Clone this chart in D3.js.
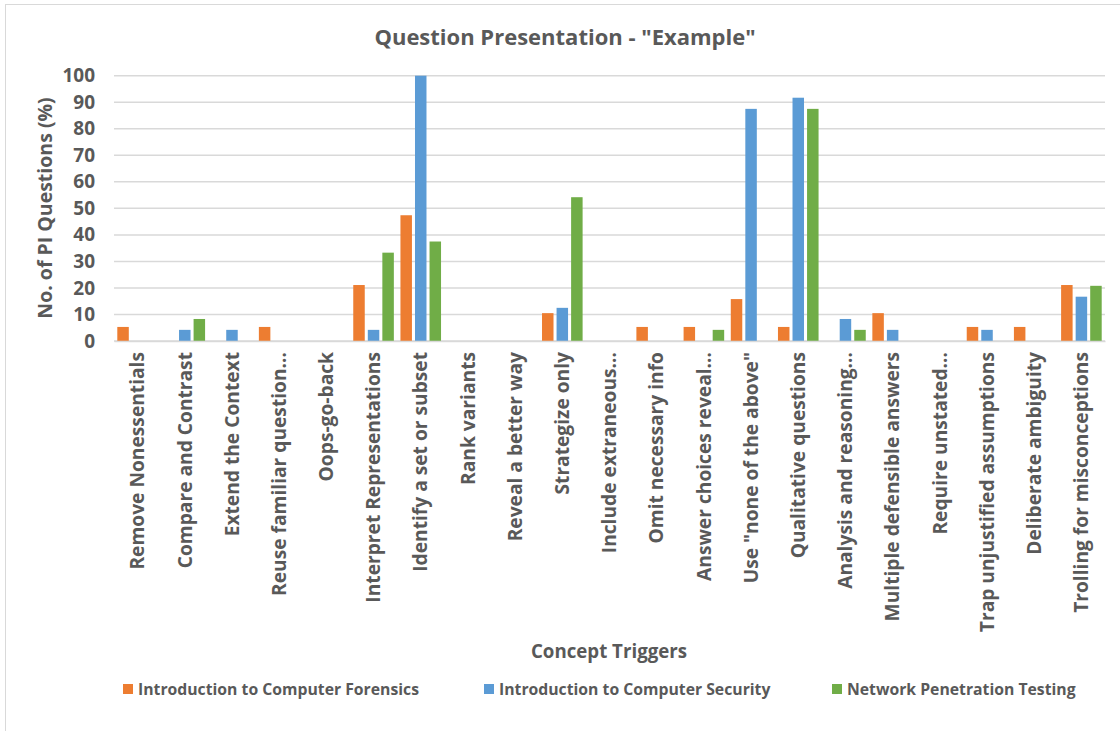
<!DOCTYPE html>
<html>
<head>
<meta charset="utf-8">
<script src="https://cdn.jsdelivr.net/npm/d3@7"></script>
<style>
  body { margin: 0; background: #fff; }
  svg { font-family: "Open Sans", sans-serif; }
</style>
</head>
<body>
<svg id="chart" width="1120" height="731"></svg>
<script>
const categories = [
  "Remove Nonessentials", "Compare and Contrast", "Extend the Context",
  "Reuse familiar question…", "Oops-go-back", "Interpret Representations",
  "Identify a set or subset", "Rank variants", "Reveal a better way",
  "Strategize only", "Include extraneous…", "Omit necessary info",
  "Answer choices reveal…", "Use \"none of the above\"", "Qualitative questions",
  "Analysis and reasoning…", "Multiple defensible answers", "Require unstated…",
  "Trap unjustified assumptions", "Deliberate ambiguity", "Trolling for misconceptions"
];

const seriesNames = [
  "Introduction to Computer Forensics",
  "Introduction to Computer Security",
  "Network Penetration Testing"
];

const forensics   = [5.3, 0, 0, 5.3, 0, 21.1, 47.4, 0, 0, 10.5, 0, 5.3, 5.3, 15.8, 5.3, 0, 10.5, 0, 5.3, 5.3, 21.1];
const security    = [0, 4.2, 4.2, 0, 0, 4.2, 100, 0, 0, 12.5, 0, 0, 0, 87.5, 91.7, 8.3, 4.2, 0, 4.2, 0, 16.7];
const penetration = [0, 8.3, 0, 0, 0, 33.3, 37.5, 0, 0, 54.2, 0, 0, 4.2, 0, 87.5, 4.2, 0, 0, 0, 0, 20.8];

const yTicks = [0, 10, 20, 30, 40, 50, 60, 70, 80, 90, 100];
const colors = ["#ed7d31", "#5b9bd5", "#70ad47"];
const textColor = "#595959";

const values = [forensics, security, penetration];
const rows = categories.map((c, i) => ({
  category: c,
  vals: seriesNames.map((s, k) => ({ series: s, value: values[k][i] }))
}));

const svg = d3.select("#chart");

// chart frame
svg.append("rect")
  .attr("x", 5.5).attr("y", 4.5)
  .attr("width", 1130).attr("height", 740)
  .attr("fill", "none")
  .attr("stroke", "#d9d9d9");

const x = d3.scaleBand()
  .domain(categories)
  .range([114, 1105]);

const x1 = d3.scaleBand()
  .domain(seriesNames)
  .range([3.3, x.bandwidth() - 3.3])
  .paddingInner(0.21);

const y = d3.scaleLinear()
  .domain([0, 100])
  .range([341, 75.7]);

// gridlines
svg.append("g")
  .selectAll("line")
  .data(yTicks)
  .join("line")
  .attr("x1", 114).attr("x2", 1105)
  .attr("y1", d => y(d)).attr("y2", d => y(d))
  .attr("stroke", "#d9d9d9")
  .attr("stroke-width", 1.5);

// y tick labels
const yAxis = svg.append("g")
  .attr("transform", "translate(103,0)")
  .call(d3.axisLeft(y).tickValues(yTicks).tickSize(0).tickPadding(8));
yAxis.select(".domain").remove();
yAxis.selectAll("text")
  .attr("fill", textColor)
  .style("font-size", "19px")
  .style("font-weight", "bold")
  .style("font-family", "Open Sans");

// bars
svg.append("g")
  .selectAll("g")
  .data(rows)
  .join("g")
  .attr("transform", d => `translate(${x(d.category)},0)`)
  .selectAll("rect")
  .data(d => d.vals.filter(v => v.value > 0))
  .join("rect")
  .attr("x", d => x1(d.series))
  .attr("width", x1.bandwidth())
  .attr("y", d => y(d.value))
  .attr("height", d => y(0) - y(d.value))
  .attr("fill", d => colors[seriesNames.indexOf(d.series)]);

// x category labels
const xAxis = svg.append("g")
  .attr("transform", `translate(0,${y(0)})`)
  .call(d3.axisBottom(x).tickSize(0).tickPadding(0));
xAxis.select(".domain")
  .attr("stroke", "#d9d9d9")
  .attr("stroke-width", 1.5);
xAxis.selectAll("text")
  .attr("fill", textColor)
  .attr("transform", "rotate(-90)")
  .attr("text-anchor", "end")
  .attr("x", -11)
  .attr("y", 0)
  .attr("dy", "0.35em")
  .style("font-size", "19.2px")
  .style("font-weight", "bold")
  .style("font-family", "Open Sans");

// title
svg.append("text")
  .attr("x", 565).attr("y", 45)
  .attr("text-anchor", "middle")
  .attr("fill", textColor)
  .style("font-size", "22px")
  .style("font-weight", "bold")
  .text("Question Presentation - \"Example\"");

// y axis title
svg.append("text")
  .attr("transform", "translate(52,208) rotate(-90)")
  .attr("text-anchor", "middle")
  .attr("fill", textColor)
  .style("font-size", "19.5px")
  .style("font-weight", "bold")
  .text("No. of PI Questions (%)");

// x axis title
svg.append("text")
  .attr("x", 609).attr("y", 658)
  .attr("text-anchor", "middle")
  .attr("fill", textColor)
  .style("font-size", "18.7px")
  .style("font-weight", "bold")
  .text("Concept Triggers");

// legend
const legendX = [123, 484, 832];
const legend = svg.append("g")
  .selectAll("g")
  .data(seriesNames)
  .join("g")
  .attr("transform", (d, i) => `translate(${legendX[i]},689)`);
legend.append("rect")
  .attr("x", 0).attr("y", -5)
  .attr("width", 10).attr("height", 10)
  .attr("fill", (d, i) => colors[i]);
legend.append("text")
  .attr("x", 15).attr("y", 0)
  .attr("dy", "0.35em")
  .attr("fill", textColor)
  .style("font-size", "15.75px")
  .style("font-weight", "bold")
  .text(d => d);
</script>
</body>
</html>
